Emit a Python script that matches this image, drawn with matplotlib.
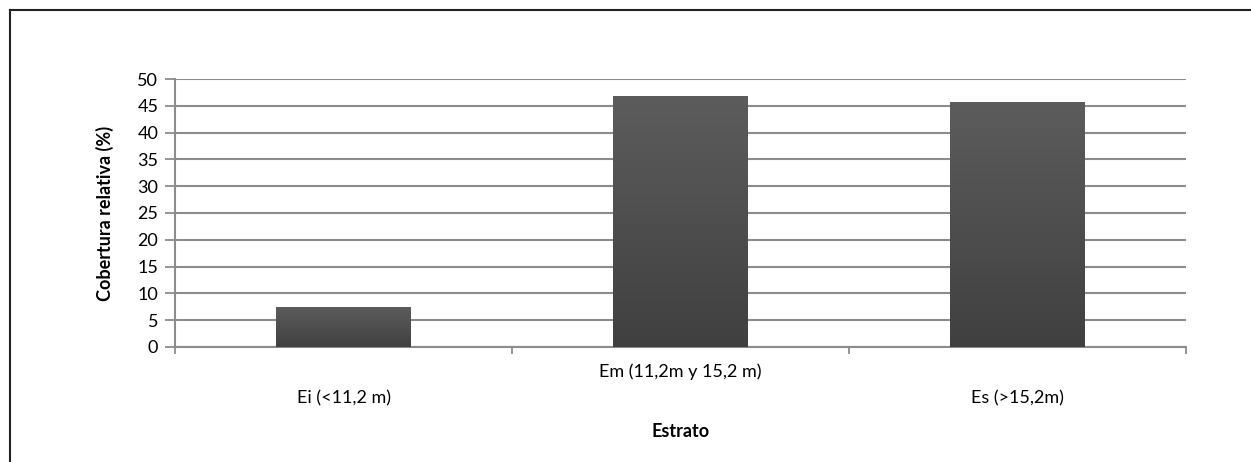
import matplotlib.pyplot as plt
import numpy as np
from matplotlib.lines import Line2D

# data
categories = ['Ei (<11,2 m)', 'Em (11,2m y 15,2 m)', 'Es (>15,2m)']
values = [7.4, 46.8, 45.6]
yticks = [0, 5, 10, 15, 20, 25, 30, 35, 40, 45, 50]

plt.rcParams['font.family'] = ['Lato', 'DejaVu Sans']

fig = plt.figure(figsize=(12.51, 4.62), dpi=100)
ax = fig.add_axes([0.1399, 0.249, 0.8081, 0.580])

x = np.arange(len(categories))
bars = ax.bar(x, values, width=0.4, color='#4e4e4e', zorder=3)

# vertical gradient on each bar
grad = np.linspace(0, 1, 100).reshape(-1, 1)
cmap = plt.matplotlib.colors.LinearSegmentedColormap.from_list('g', ['#404040', '#5c5c5c'])
for b in bars:
    x0, w, h = b.get_x(), b.get_width(), b.get_height()
    ax.imshow(grad, extent=(x0, x0 + w, 0, h), origin='lower', aspect='auto',
              cmap=cmap, zorder=4)
    b.set_visible(False)

ax.set_xlim(-0.5, 2.5)
ax.set_ylim(0, 50)
ax.set_yticks(yticks)
ax.yaxis.grid(True, color='#8c8c8c', linewidth=1.5, zorder=1)
ax.tick_params(axis='y', length=7, width=1.3, color='#8c8c8c', labelsize=13, pad=5)

# category boundary ticks, labels placed by hand (staggered)
ax.set_xticks(np.arange(-0.5, len(categories), 1.0))
ax.set_xticklabels([])
ax.tick_params(axis='x', length=5, width=1.3, color='#8c8c8c', direction='out')
for i, lab in enumerate(categories):
    off = -25 if i % 2 else -51
    ax.annotate(lab, (i, 0), xycoords=('data', 'axes fraction'),
                xytext=(0, off * 0.72), textcoords='offset points',
                ha='center', va='center', fontsize=13)

for s in ['top', 'right']:
    ax.spines[s].set_visible(False)
for s in ['left', 'bottom']:
    ax.spines[s].set_color('#8c8c8c')
    ax.spines[s].set_linewidth(1.5)

ax.annotate('Estrato', (0.5, 0), xycoords='axes fraction',
            xytext=(0, -85 * 0.72), textcoords='offset points',
            ha='center', va='center', fontsize=13, fontweight='bold')
ax.set_ylabel('Cobertura relativa (%)', fontsize=13, fontweight='bold', labelpad=17)

# outer frame (left and top edges visible)
fig.add_artist(Line2D([9.5 / 1251, 9.5 / 1251], [0, 1 - 9.5 / 462], color='#222222', lw=1.5))
fig.add_artist(Line2D([9.5 / 1251, 1], [1 - 9.5 / 462, 1 - 9.5 / 462], color='#222222', lw=1.5))

fig.savefig('out.png', dpi=100)
